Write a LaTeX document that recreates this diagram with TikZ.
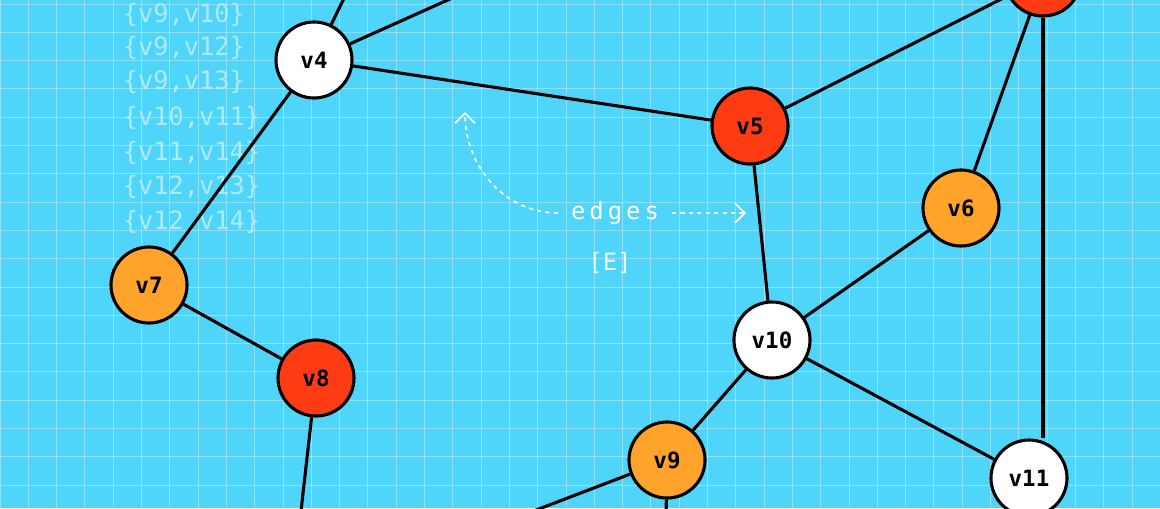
\documentclass[tikz,border=0pt]{standalone}
\usepackage{fontspec}
\setmonofont{DejaVu Sans Mono}
\usetikzlibrary{arrows.meta}
\definecolor{sky-bg}{RGB}{79,212,250}
\definecolor{vertex-red}{RGB}{255,59,20}
\definecolor{vertex-orange}{RGB}{255,163,43}
\definecolor{list-gray}{RGB}{200,240,252}

\begin{document}
\begin{tikzpicture}[x=0.025cm, y=-0.025cm,
    vertex/.style={circle, minimum size=78\pgflinewidth, draw=black, line width=2.2pt, inner sep=0pt, minimum size=1.9cm, font=\ttfamily\bfseries\fontsize{16}{16}\selectfont},
    edge/.style={draw=black, line width=2.2pt},
    set text/.style={text=list-gray, font=\ttfamily\fontsize{18}{18}\selectfont, anchor=west, opacity=0.8},
    hint/.style={draw=white, dashed, line width=1.2pt, -{Straight Barb[length=7pt, width=14pt]}}
]

% Background and grid
\fill[sky-bg] (0,0) rectangle (1160,508);
\useasboundingbox (0,0) rectangle (1160,508);
\begin{scope}
\clip (0,0) rectangle (1160,508);
\foreach \gx in {0,28.3,...,1160}
    \draw[white, opacity=0.35, line width=0.6pt] (\gx,0) -- (\gx,508);
\foreach \gy in {4,32.3,...,508}
    \draw[white, opacity=0.35, line width=0.6pt] (0,\gy) -- (1160,\gy);
\end{scope}

% Edge set listing
\node[set text] (e1) at (118,15) {\{v9,v10\}};
\node[set text] (e2) at (118,48) {\{v9,v12\}};
\node[set text] (e3) at (118,82) {\{v9,v13\}};
\node[set text] (e4) at (118,118) {\{v10,v11\}};
\node[set text] (e5) at (118,153) {\{v11,v14\}};
\node[set text] (e6) at (118,187) {\{v12,v13\}};
\node[set text] (e7) at (118,222) {\{v12,v14\}};

% Off-canvas ends
\coordinate (t1) at (348,-10);
\coordinate (t2) at (470,-10);
\coordinate (b8) at (300,520);
\coordinate (b9a) at (510,520);
\coordinate (b9b) at (666,520);

% Vertices
\node[vertex, fill=vertex-red] (v3) at (1043,-22) {};
\node[vertex, fill=white] (v4) at (314,60) {v4};
\node[vertex, fill=vertex-red] (v5) at (750,126) {v5};
\node[vertex, fill=vertex-orange] (v6) at (961,208) {v6};
\node[vertex, fill=vertex-orange] (v7) at (149,285) {v7};
\node[vertex, fill=vertex-red] (v8) at (316,378) {v8};
\node[vertex, fill=vertex-orange] (v9) at (667,460) {v9};
\node[vertex, fill=white] (v10) at (772,340) {v10};
\node[vertex, fill=white] (v11) at (1029,478) {v11};

% Edges
\begin{scope}[on background layer/.try]
\end{scope}
\draw[edge] (v4) -- (t1);
\draw[edge] (v4) -- (t2);
\draw[edge] (v4) -- (v5);
\draw[edge] (v4) -- (v7);
\draw[edge] (v5) -- (v3);
\draw[edge] (v6) -- (v3);
\draw[edge] (v3.south) ++(0,0) coordinate (v3s);
\draw[edge] (v3s) -- (v3s |- v11.north);
\draw[edge] (v5) -- (v10);
\draw[edge] (v6) -- (v10);
\draw[edge] (v10) -- (v11);
\draw[edge] (v10) -- (v9);
\draw[edge] (v7) -- (v8);
\draw[edge] (v8) -- (b8);
\draw[edge] (v9) -- (b9a);
\draw[edge] (v9) -- (b9b);

% Caption with hints
\node[text=white, font=\ttfamily\fontsize{17}{17}\selectfont] (edges) at (615,213) {e\,d\,g\,e\,s};
\node[text=white, font=\ttfamily\fontsize{17}{17}\selectfont, opacity=0.9] (setE) at (610,263) {[E]};
\draw[hint] (edges.west) ++(-8,0) coordinate (h1) to[out=180, in=-90] (465,112);
\draw[hint] (edges.east) ++(8,0) coordinate (h2) -- (746,213);

\end{tikzpicture}
\end{document}
